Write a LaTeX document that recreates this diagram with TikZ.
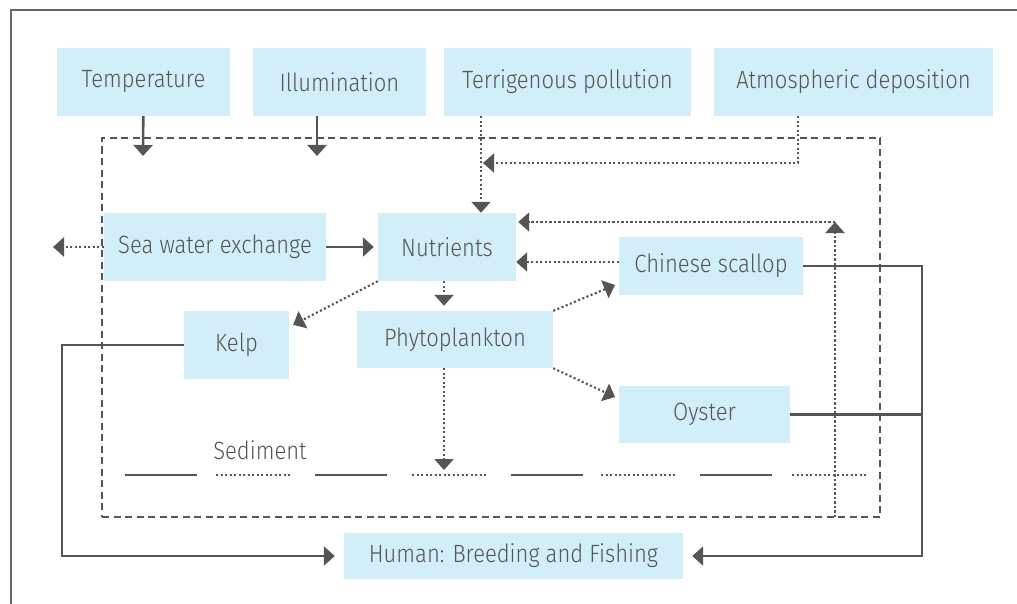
\documentclass[tikz,border=0pt]{standalone}
\usepackage{fontspec}
\setmainfont{Fira Sans Light}[FakeStretch=0.88]
\usetikzlibrary{arrows.meta,calc}
\definecolor{boxblue}{HTML}{D2EEF9}
\definecolor{inkgray}{HTML}{555555}
\definecolor{framegray}{HTML}{666666}
\tikzset{
  fact/.style={fill=boxblue,text=inkgray,inner sep=0pt,font=\fontsize{25}{29}\selectfont},
  link/.style={draw=inkgray,line width=2.6pt},
  tip/.style={-{Triangle[width=19pt,length=11pt]}},
  dotlink/.style={draw=inkgray,line width=2.1pt,dash pattern=on 2.1pt off 2.4pt},
  sysbox/.style={draw=inkgray,line width=2.6pt,dash pattern=on 7pt off 4.5pt,inner sep=0pt},
}
\begin{document}
\begin{tikzpicture}[x=1pt,y=-1pt]
    \useasboundingbox (0,0) rectangle (1017,604);
    \draw[framegray,line width=2.6pt] (11,610) -- (11,10) -- (1030,10);
    % outside factors
    \node[fact,minimum width=173,minimum height=68] (temp) at (143.5,82) {Temperature};
    \node[fact,minimum width=173,minimum height=68] (illum) at (339.5,82) {Illumination};
    \node[fact,minimum width=247,minimum height=68] (terri) at (567.5,82) {Terrigenous pollution};
    \node[fact,minimum width=279,minimum height=68] (atmos) at (853.5,82) {Atmospheric deposition};
    % the bay
    \node[sysbox,minimum width=778,minimum height=379] (system) at (491,327.5) {};
    \node[fact,minimum width=222,minimum height=68] (sea) at (215,247) {Sea water exchange};
    \node[fact,minimum width=138,minimum height=68] (nutr) at (447,247) {Nutrients};
    \node[fact,minimum width=184,minimum height=58] (scallop) at (711,266) {Chinese scallop};
    \node[fact,minimum width=105,minimum height=68] (kelp) at (236.5,345) {Kelp};
    \node[fact,minimum width=196,minimum height=57] (phyto) at (455,339.5) {Phytoplankton};
    \node[fact,minimum width=171,minimum height=57] (oyster) at (704.5,414.5) {Oyster};
    \node[fact,minimum width=339,minimum height=46] (human) at (513.5,556) {Human: Breeding and Fishing};
    \node[fact,fill=none] (sedlabel) at (260,450) {Sediment};
    \coordinate (tempin) at (143,156);
    \coordinate (illumin) at (317,156);
    \coordinate (atmosjoin) at (483,163);
    \coordinate (seaout) at (53,247);
    \coordinate (recycle) at (835,517);
    \coordinate (recycletop) at (835,222);
    \coordinate (sink) at (444,470);
    \coordinate (scallopin) at (615,285);
    \coordinate (oysterin) at (615,397);
    \coordinate (harvest) at (922,556);
    \coordinate (kelpturn) at (62,556);

    \draw[link,tip] (temp) -- (tempin);
    \draw[link,tip] ([xshift=-22.5]illum.south) -- (illumin);
    \draw[dotlink,tip] ([xshift=-86.5]terri.south) -- ([xshift=34]nutr.north);
    \draw[dotlink,tip] ([xshift=-55.5]atmos.south) |- (atmosjoin);
    \draw[dotlink,tip] (sea.west) -- (seaout);
    \draw[link,tip,shorten >=4pt] (sea) -- (nutr);
    \draw[dotlink,tip] ([yshift=4]scallop.west) -- (nutr.east |- 0,262);
    \draw[dotlink,tip] (recycle) -- (recycletop);
    \draw[dotlink,tip,shorten >=2pt] (recycletop) -- (nutr.east |- recycletop);
    \draw[dotlink,tip] (nutr.south west) -- ($(kelp.north east)+(4,14)$);
    \draw[dotlink,tip,shorten >=5pt] ([xshift=-3]nutr.south) -- ([xshift=-11]phyto.north);
    \draw[dotlink,tip] (phyto.north east) -- (scallopin);
    \draw[dotlink,tip] (phyto.south east) -- (oysterin);
    \draw[dotlink,tip] ([xshift=-11]phyto.south) -- (sink);
    % harvest
    \draw[link,tip,shorten >=9pt] (scallop.east) -| (harvest) -- (human.east);
    \draw[link] (oyster.east) -- (oyster.east -| harvest);
    \draw[link,tip,shorten >=9pt] (kelp.west) -| (kelpturn) -- (human.west);
    % sediment layer
    \foreach \x in {125,315,511,700}
        \draw[link] (\x,475) -- ++(72,0);
    \foreach \x in {216,412,601,792}
        \draw[dotlink] (\x,475) -- ++(75,0);
\end{tikzpicture}
\end{document}
